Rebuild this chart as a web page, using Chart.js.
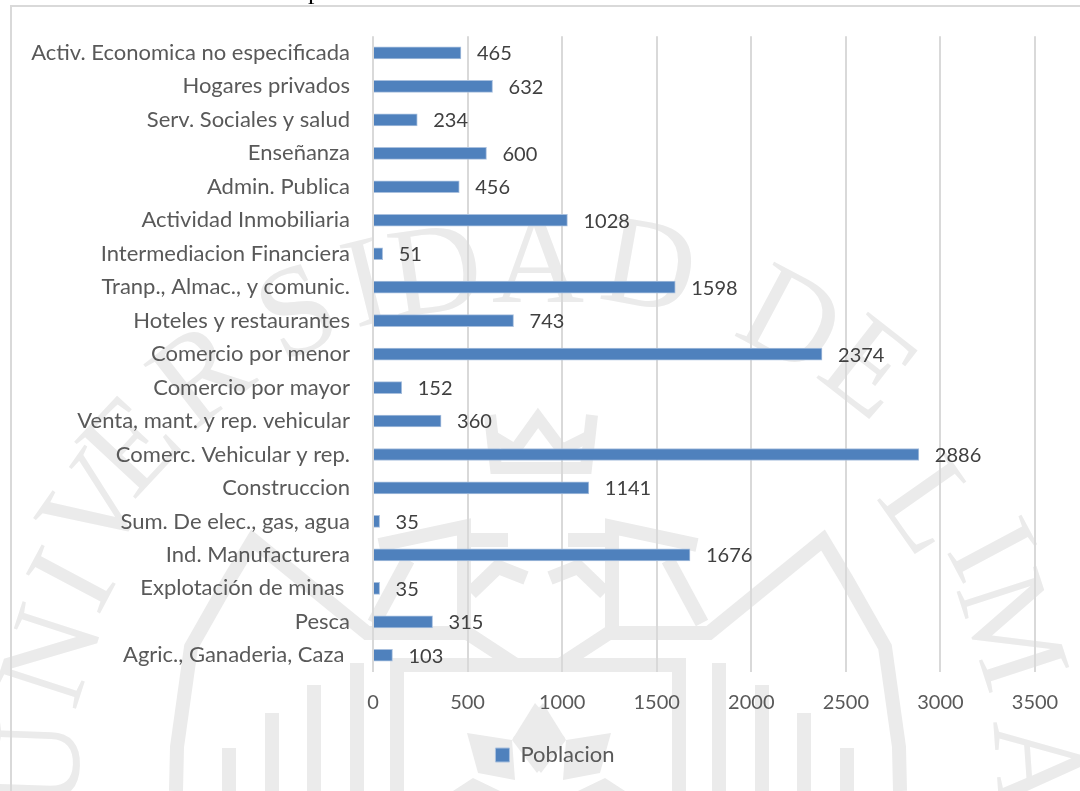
<!DOCTYPE html>
<html><head><meta charset="utf-8">
<style>html,body{margin:0;padding:0;background:#fff;overflow:hidden}canvas{display:block}</style>
<script src="https://cdn.jsdelivr.net/npm/chart.js@4"></script></head>
<body><canvas id="c" width="1080" height="791"></canvas>
<script>
const categories=["Activ. Economica no especificada","Hogares privados","Serv. Sociales y salud","Enseñanza","Admin. Publica","Actividad Inmobiliaria","Intermediacion Financiera","Tranp., Almac., y comunic.","Hoteles y restaurantes","Comercio por menor","Comercio por mayor","Venta, mant. y rep. vehicular","Comerc. Vehicular y rep.","Construccion","Sum. De elec., gas, agua","Ind. Manufacturera","Explotación de minas ","Pesca","Agric., Ganaderia, Caza "];
const poblacion=[465,632,234,600,456,1028,51,1598,743,2374,152,360,2886,1141,35,1676,35,315,103];
const seriesName="Poblacion";
const FONT="Lato, 'Open Sans', sans-serif";

// decorative crest behind the chart
const crestLetters=[["U",45,765,-88],["N",57,658,-72],["I",78,583,-62],["V",100,510,-55],["E",135,450,-47],["R",205,380,-38],["S",300,318,-25],["I",368,290,-14],["D",436,278,-8],["A",538,268,0],["D",648,273,10],["D",788,326,28],["E",865,373,38],["L",925,510,55],["I",985,553,62],["M",1005,632,72],["A",1030,765,86]];
const AXIS=538;
const crestBars=[[712,663],[755,685],[797,713],[840,748]];
const crestLines=[
 [[900,791],[899,747],[885,647],[847,580],[823,540],[709,633],[609,633],[560,665]],
 [[612,633],[612,527],[697,545]],[[568,540],[609,540]],[[550,578],[578,567],[605,593]],[[668,560],[702,623]]];
const crestKites=[
 [[512,740],[535,703],[565,738],[537,773]],
 [[467,733],[512,740],[515,780],[478,773]],
 [[473,778],[453,791],[500,791]]];

const backdrop={id:'backdrop',
 afterLayout(ch){ch.legend.left=30;ch.legend.right=1080;},
 beforeDraw(ch){
  const g=ch.ctx;g.save();
  g.fillStyle='#fff';g.fillRect(0,0,1080,791);
  g.fillStyle='#ebebeb';g.strokeStyle='#ebebeb';
  g.font="128px 'Liberation Serif', serif";g.textAlign='center';g.textBaseline='middle';
  crestLetters.forEach(([c,x,y,r])=>{g.save();g.translate(x,y);g.rotate(r*Math.PI/180);g.fillText(c,0,0);g.restore();});
  const M=x=>2*AXIS-x;
  g.lineWidth=14;g.lineJoin='miter';
  crestLines.forEach(l=>{[p=>p[0],p=>M(p[0])].forEach(fx=>{g.beginPath();l.forEach((p,i)=>i?g.lineTo(fx(p),p[1]):g.moveTo(fx(p),p[1]));g.stroke();});});
  // gate frame
  g.fillRect(390,658,296,14);g.fillRect(390,658,14,133);g.fillRect(672,658,14,133);
  crestBars.forEach(([x,y])=>{g.fillRect(x,y,14,791-y);g.fillRect(M(x)-14,y,14,791-y);});
  // star and crown
  crestKites.forEach(k=>{[p=>p[0],p=>M(p[0])+2].forEach(fx=>{g.beginPath();k.forEach((p,i)=>i?g.lineTo(fx(p),p[1]):g.moveTo(fx(p),p[1]));g.closePath();g.fill();});});
  g.lineWidth=12;g.beginPath();g.moveTo(490,415);g.lineTo(496,468);g.lineTo(586,468);g.lineTo(592,415);g.stroke();
  g.beginPath();g.moveTo(490,435);g.lineTo(515,450);g.lineTo(538,418);g.lineTo(562,450);g.lineTo(592,435);g.stroke();
  // chart frame and clipped caption above it
  g.strokeStyle='#d9d9d9';g.lineWidth=2;
  g.beginPath();g.moveTo(11,791);g.lineTo(11,6);g.lineTo(1080,6);g.stroke();
  g.fillStyle='#000';g.font="26px 'Liberation Serif', serif";g.textAlign='left';g.textBaseline='alphabetic';
  g.fillText('p',308,-1);
  g.restore();
}};
const valueLabels={id:'valueLabels',afterDatasetsDraw(ch){
  const g=ch.ctx;g.save();g.fillStyle='#404040';g.font="20px "+FONT;g.textAlign='left';g.textBaseline='middle';
  ch.getDatasetMeta(0).data.forEach((b,i)=>g.fillText(String(poblacion[i]),b.x+16,b.y+1));
  g.restore();
}};
new Chart(document.getElementById('c'),{
  type:'bar',
  data:{labels:categories,datasets:[{label:seriesName,data:poblacion,backgroundColor:'#4f81bd',borderColor:'#a9c0de',borderWidth:1,barThickness:12}]},
  plugins:[backdrop,valueLabels],
  options:{indexAxis:'y',responsive:false,animation:false,devicePixelRatio:1,
    layout:{padding:{top:35,right:45,left:0,bottom:15}},
    plugins:{tooltip:{enabled:false},title:{display:false},
      legend:{display:true,position:'bottom',align:'center',
        labels:{font:{family:FONT,size:22},color:'#595959',boxWidth:14,boxHeight:14,padding:10},
        onClick:null}},
    scales:{
      x:{min:0,max:3500,position:'bottom',
        afterFit(a){a.height=62},
        grid:{color:'#d9d9d9',lineWidth:2,drawTicks:false},border:{display:false},
        ticks:{stepSize:500,font:{family:FONT,size:20},color:'#595959',padding:19,maxRotation:0,callback:v=>String(v)}},
      y:{afterFit(a){a.width=373},
        grid:{display:false,drawTicks:false},border:{display:false},
        ticks:{autoSkip:false,font:{family:FONT,size:22},color:'#595959',padding:23}}
    }}
});
</script></body></html>
